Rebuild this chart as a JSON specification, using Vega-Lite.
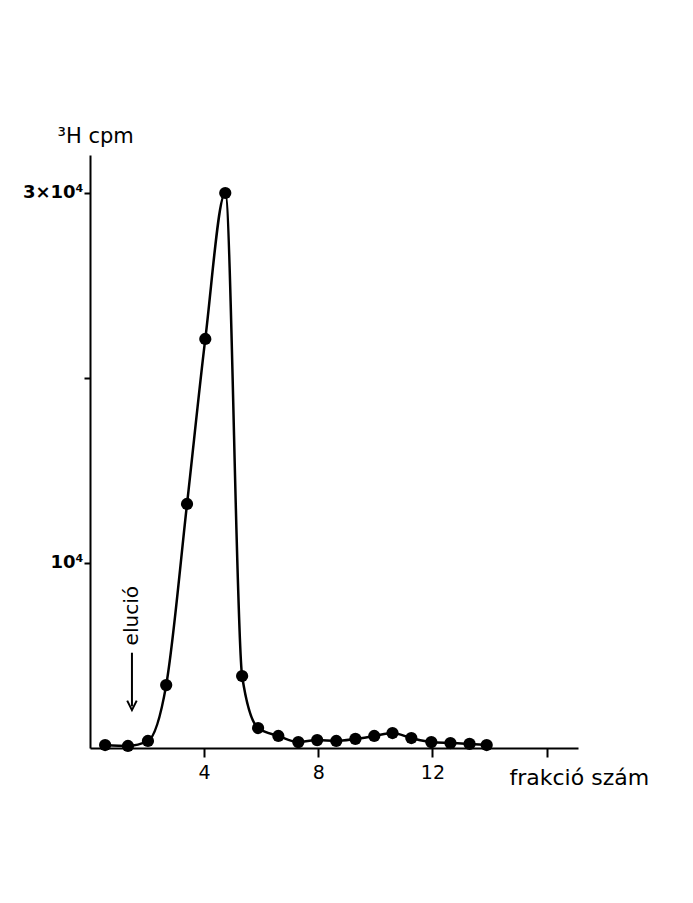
{
  "$schema": "https://vega.github.io/schema/vega-lite/v6.json",
  "autosize": "none",
  "width": 488,
  "height": 593,
  "padding": {"left": 90, "top": 155, "right": 115, "bottom": 155},
  "background": "white",
  "config": {
    "view": {"stroke": null},
    "font": "DejaVu Sans"
  },
  "datasets": {
    "pts": [
      {"frakcio": 0.53, "cpm": 160},
      {"frakcio": 1.33, "cpm": 110},
      {"frakcio": 2.03, "cpm": 380},
      {"frakcio": 2.67, "cpm": 3400},
      {"frakcio": 3.40, "cpm": 13190},
      {"frakcio": 4.04, "cpm": 22110},
      {"frakcio": 4.74, "cpm": 30000},
      {"frakcio": 5.33, "cpm": 3890},
      {"frakcio": 5.89, "cpm": 1080},
      {"frakcio": 6.60, "cpm": 650},
      {"frakcio": 7.30, "cpm": 320},
      {"frakcio": 7.96, "cpm": 430},
      {"frakcio": 8.63, "cpm": 380},
      {"frakcio": 9.30, "cpm": 490},
      {"frakcio": 9.96, "cpm": 650},
      {"frakcio": 10.60, "cpm": 810},
      {"frakcio": 11.26, "cpm": 540},
      {"frakcio": 11.96, "cpm": 320},
      {"frakcio": 12.63, "cpm": 270},
      {"frakcio": 13.30, "cpm": 220},
      {"frakcio": 13.90, "cpm": 160}
    ],
    "note": [
      {"frakcio": 1.47, "cpm": 7150, "label": "elució"}
    ],
    "arrow": [
      {"frakcio": 1.47, "top": 5150, "bottom": 2250, "tip": 2050}
    ]
  },
  "layer": [
    {
      "data": {"name": "pts"},
      "mark": {"type": "line", "interpolate": "monotone", "color": "black", "strokeWidth": 2.5},
      "encoding": {
        "x": {
          "field": "frakcio", "type": "quantitative",
          "scale": {"domain": [0, 17.1], "nice": false, "zero": false},
          "axis": {
            "values": [4, 8, 12, 16],
            "labelExpr": "datum.value == 16 ? '' : datum.label",
            "grid": false,
            "domainColor": "black", "domainWidth": 2,
            "tickColor": "black", "tickWidth": 2, "tickSize": 9,
            "labelFontSize": 19, "labelColor": "black", "labelPadding": 6,
            "title": "frakció szám",
            "titleFontSize": 22, "titleFontWeight": "normal", "titleColor": "black",
            "titleAnchor": "start", "titleAlign": "left", "titleBaseline": "alphabetic",
            "titleX": 419, "titleY": 36
          }
        },
        "y": {
          "field": "cpm", "type": "quantitative",
          "scale": {"domain": [0, 32054], "nice": false},
          "axis": {
            "values": [10000, 20000, 30000],
            "labelExpr": "datum.value == 30000 ? '3×10⁴' : (datum.value == 10000 ? '10⁴' : '')",
            "grid": false,
            "domainColor": "black", "domainWidth": 2,
            "tickColor": "black", "tickWidth": 2, "tickSize": 6,
            "labelFontSize": 18, "labelFontWeight": "bold", "labelColor": "black", "labelPadding": 1,
            "title": "³H cpm",
            "titleFontSize": 21, "titleFontWeight": "normal", "titleColor": "black",
            "titleAngle": 0, "titleAlign": "left", "titleBaseline": "alphabetic",
            "titleX": -33, "titleY": -13
          }
        }
      }
    },
    {
      "data": {"name": "pts"},
      "mark": {"type": "point", "filled": true, "color": "black", "opacity": 1, "size": 150},
      "encoding": {
        "x": {"field": "frakcio", "type": "quantitative"},
        "y": {"field": "cpm", "type": "quantitative"}
      }
    },
    {
      "data": {"name": "note"},
      "mark": {"type": "text", "angle": 270, "fontSize": 20, "color": "black", "align": "center", "baseline": "middle"},
      "encoding": {
        "x": {"field": "frakcio", "type": "quantitative"},
        "y": {"field": "cpm", "type": "quantitative"},
        "text": {"field": "label"}
      }
    },
    {
      "data": {"name": "arrow"},
      "mark": {"type": "rule", "color": "black", "strokeWidth": 2},
      "encoding": {
        "x": {"field": "frakcio", "type": "quantitative"},
        "y": {"field": "top", "type": "quantitative"},
        "y2": {"field": "bottom"}
      }
    },
    {
      "data": {"name": "arrow"},
      "mark": {"type": "point", "shape": "M-1,-2L0,0L1,-2", "filled": false, "color": "black", "strokeWidth": 2, "size": 90, "opacity": 1},
      "encoding": {
        "x": {"field": "frakcio", "type": "quantitative"},
        "y": {"field": "tip", "type": "quantitative"}
      }
    }
  ]
}
